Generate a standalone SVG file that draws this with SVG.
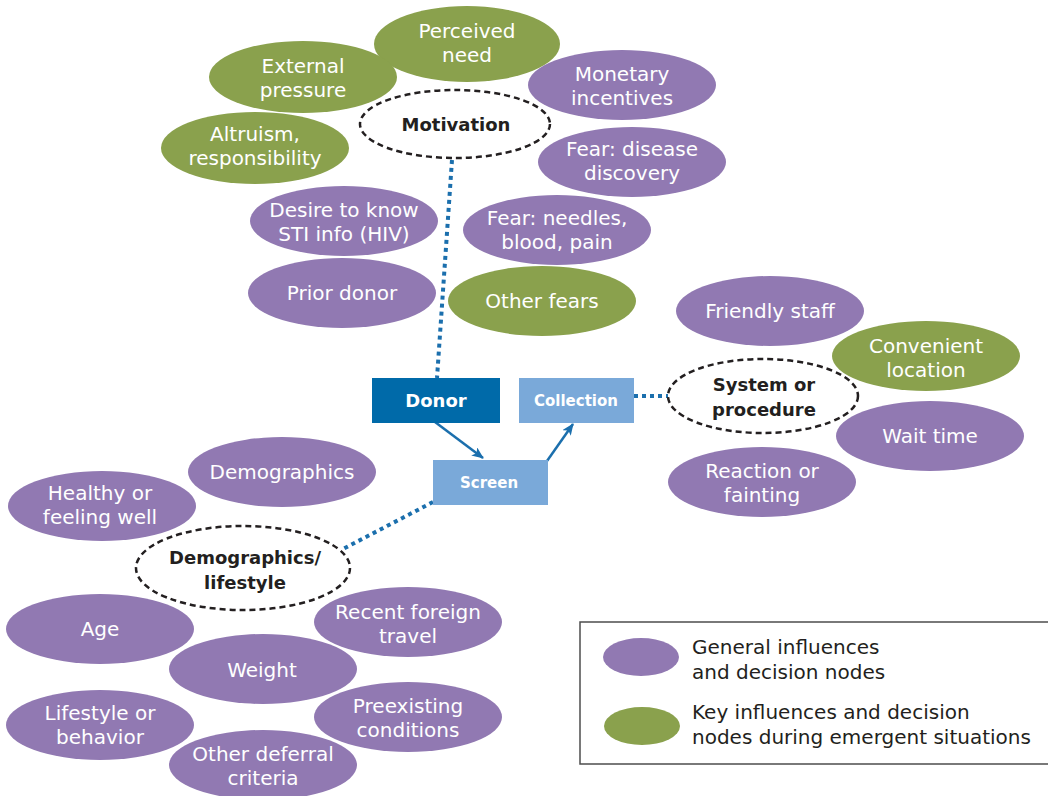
<svg xmlns="http://www.w3.org/2000/svg" width="1048" height="796" viewBox="0 0 1048 796">
  <style>
    text { font-family: "DejaVu Sans", "Open Sans", "Liberation Sans", sans-serif; text-anchor: middle; }
    .p { fill: #9179b2; }
    .g { fill: #8aa14d; }
    .lbl { fill: #ffffff; font-size: 20px; }
    .hub { fill: none; stroke: #231f20; stroke-width: 2.5; stroke-dasharray: 6 4; }
    .hubt { fill: #231f20; font-size: 18px; font-weight: bold; }
    .boxt { fill: #ffffff; font-weight: bold; }
    .dot { fill: none; stroke: #1b6fad; stroke-width: 4; stroke-dasharray: 4 4; }
    .arr { fill: none; stroke: #1b6fad; stroke-width: 2.5; marker-end: url(#ah); }
    .leg { fill: #231f20; font-size: 20px; text-anchor: start; }
  </style>
  <defs>
    <marker id="ah" viewBox="0 0 12 10" refX="11" refY="5" markerWidth="12" markerHeight="10" markerUnits="userSpaceOnUse" orient="auto">
      <path d="M0,0 L12,5 L0,10 L3,5 Z" fill="#1b6fad"/>
    </marker>
  </defs>
  <rect width="1048" height="796" fill="#ffffff"/>

  <!-- connectors -->
  <g id="connectors">
    <path class="dot" d="M452,160 L437,378"/>
    <path class="dot" d="M634,396 L668,396"/>
    <path class="dot" d="M433,502 L341,550"/>
    <path class="arr" d="M435,422 L483,458"/>
    <path class="arr" d="M547,461 L573,424"/>
  </g>

  <!-- Motivation cluster -->
  <g id="n-perceived"><ellipse class="g" cx="467" cy="44" rx="93" ry="38"/><text class="lbl" x="467" y="38">Perceived</text><text class="lbl" x="467" y="62">need</text></g>
  <g id="n-external"><ellipse class="g" cx="303" cy="77" rx="94" ry="36"/><text class="lbl" x="303" y="73">External</text><text class="lbl" x="303" y="97">pressure</text></g>
  <g id="n-monetary"><ellipse class="p" cx="622" cy="85" rx="94" ry="35"/><text class="lbl" x="622" y="81">Monetary</text><text class="lbl" x="622" y="105">incentives</text></g>
  <g id="n-altruism"><ellipse class="g" cx="255" cy="148" rx="94" ry="36"/><text class="lbl" x="255" y="141">Altruism,</text><text class="lbl" x="255" y="165">responsibility</text></g>
  <g id="n-fear-disease"><ellipse class="p" cx="632" cy="162" rx="94" ry="35"/><text class="lbl" x="632" y="156">Fear: disease</text><text class="lbl" x="632" y="180">discovery</text></g>
  <g id="n-desire"><ellipse class="p" cx="344" cy="221" rx="94" ry="35"/><text class="lbl" x="344" y="217">Desire to know</text><text class="lbl" x="344" y="241">STI info (HIV)</text></g>
  <g id="n-fear-needles"><ellipse class="p" cx="557" cy="230" rx="94" ry="35"/><text class="lbl" x="557" y="225">Fear: needles,</text><text class="lbl" x="557" y="249">blood, pain</text></g>
  <g id="n-prior"><ellipse class="p" cx="342" cy="293" rx="94" ry="35"/><text class="lbl" x="342" y="300">Prior donor</text></g>
  <g id="n-other-fears"><ellipse class="g" cx="542" cy="301" rx="94" ry="35"/><text class="lbl" x="542" y="308">Other fears</text></g>
  <g id="n-motivation"><ellipse class="hub" cx="455" cy="124" rx="95" ry="34"/><text class="hubt" x="456" y="131">Motivation</text></g>

  <!-- System or procedure cluster -->
  <g id="n-friendly"><ellipse class="p" cx="770" cy="311" rx="94" ry="35"/><text class="lbl" x="770" y="318">Friendly staff</text></g>
  <g id="n-convenient"><ellipse class="g" cx="926" cy="356" rx="94" ry="35"/><text class="lbl" x="926" y="353">Convenient</text><text class="lbl" x="926" y="377">location</text></g>
  <g id="n-wait"><ellipse class="p" cx="930" cy="436" rx="94" ry="35"/><text class="lbl" x="930" y="443">Wait time</text></g>
  <g id="n-reaction"><ellipse class="p" cx="762" cy="482" rx="94" ry="35"/><text class="lbl" x="762" y="478">Reaction or</text><text class="lbl" x="762" y="502">fainting</text></g>
  <g id="n-system"><ellipse class="hub" cx="763" cy="396" rx="95" ry="37"/><text class="hubt" x="764" y="391">System or</text><text class="hubt" x="764" y="416">procedure</text></g>

  <!-- Process boxes -->
  <g id="n-donor"><rect x="372" y="378" width="128" height="45" fill="#006aa9"/><text class="boxt" x="436" y="407" font-size="18">Donor</text></g>
  <g id="n-collection"><rect x="519" y="378" width="115" height="45" fill="#7aa9d9"/><text class="boxt" x="576" y="406" font-size="15">Collection</text></g>
  <g id="n-screen"><rect x="433" y="460" width="115" height="45" fill="#7aa9d9"/><text class="boxt" x="489" y="488" font-size="15">Screen</text></g>

  <!-- Demographics/lifestyle cluster -->
  <g id="n-demographics"><ellipse class="p" cx="282" cy="472" rx="94" ry="35"/><text class="lbl" x="282" y="479">Demographics</text></g>
  <g id="n-healthy"><ellipse class="p" cx="102" cy="506" rx="94" ry="35"/><text class="lbl" x="100" y="500">Healthy or</text><text class="lbl" x="100" y="524">feeling well</text></g>
  <g id="n-age"><ellipse class="p" cx="100" cy="629" rx="94" ry="35"/><text class="lbl" x="100" y="636">Age</text></g>
  <g id="n-travel"><ellipse class="p" cx="408" cy="622" rx="94" ry="35"/><text class="lbl" x="408" y="619">Recent foreign</text><text class="lbl" x="408" y="643">travel</text></g>
  <g id="n-weight"><ellipse class="p" cx="263" cy="669" rx="94" ry="35"/><text class="lbl" x="262" y="677">Weight</text></g>
  <g id="n-lifestyle"><ellipse class="p" cx="100" cy="725" rx="94" ry="35"/><text class="lbl" x="100" y="720">Lifestyle or</text><text class="lbl" x="100" y="744">behavior</text></g>
  <g id="n-preexisting"><ellipse class="p" cx="408" cy="717" rx="94" ry="35"/><text class="lbl" x="408" y="713">Preexisting</text><text class="lbl" x="408" y="737">conditions</text></g>
  <g id="n-deferral"><ellipse class="p" cx="263" cy="765" rx="94" ry="35"/><text class="lbl" x="263" y="761">Other deferral</text><text class="lbl" x="263" y="785">criteria</text></g>
  <g id="n-demolife"><ellipse class="hub" cx="243" cy="568" rx="107" ry="42"/><text class="hubt" x="245" y="564">Demographics/</text><text class="hubt" x="245" y="589">lifestyle</text></g>

  <!-- Legend -->
  <g id="legend">
    <rect x="580" y="622" width="480" height="142" fill="none" stroke="#4d4d4d" stroke-width="1.5"/>
    <ellipse class="p" cx="641" cy="657" rx="38" ry="19"/>
    <ellipse class="g" cx="642" cy="726" rx="38" ry="19"/>
    <text class="leg" x="692" y="654">General influences</text>
    <text class="leg" x="692" y="679">and decision nodes</text>
    <text class="leg" x="692" y="719">Key influences and decision</text>
    <text class="leg" x="692" y="744">nodes during emergent situations</text>
  </g>
</svg>
